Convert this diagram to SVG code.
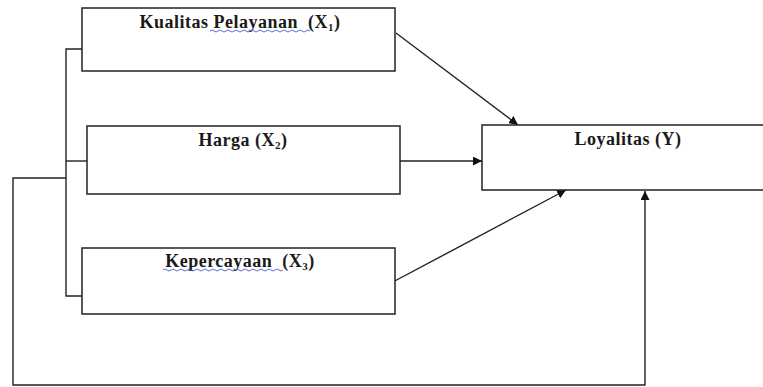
<svg xmlns="http://www.w3.org/2000/svg" width="763" height="387" viewBox="0 0 763 387">
<defs>
<style>
.box{fill:#fff;stroke:#222;stroke-width:1.5}
.lbl{font-family:"Liberation Serif","Times New Roman",serif;font-weight:bold;font-size:18px;letter-spacing:0.5px;fill:#1a1a1a;text-anchor:middle;white-space:pre}
.sub{font-size:11px}
.ln{fill:none;stroke:#222;stroke-width:1.4}
.sq{fill:none;stroke:#4a5fd0;stroke-width:0.9}
</style>
<marker id="ah" viewBox="0 0 10 10" refX="10" refY="5" markerWidth="9" markerHeight="9" markerUnits="userSpaceOnUse" orient="auto">
<path d="M0,0 L10,5 L0,10 z" fill="#111"/>
</marker>
</defs>
<rect width="763" height="387" fill="#fff"/>
<g id="connectors">
<polyline class="ln" points="82,49 66,49 66,296 82,296"/>
<line class="ln" x1="66" y1="161" x2="87" y2="161"/>
<polyline class="ln" points="66,178 13,178 13,385 645,385 645,191" marker-end="url(#ah)"/>
<line class="ln" x1="396" y1="33" x2="518" y2="125" marker-end="url(#ah)"/>
<line class="ln" x1="397" y1="161" x2="482" y2="161" marker-end="url(#ah)"/>
<line class="ln" x1="391" y1="283" x2="566" y2="190" marker-end="url(#ah)"/>
</g>
<g id="x1">
<rect class="box" x="82" y="8" width="313" height="63"/>
<text class="lbl" x="240" y="28" xml:space="preserve">Kualitas Pelayanan  (X<tspan class="sub" dy="3">1</tspan><tspan dy="-3">)</tspan></text>
<path class="sq" d="M210,31 q2,-2 4,0 t4,0 t4,0 t4,0 t4,0 t4,0 t4,0 t4,0 t4,0 t4,0 t4,0 t4,0 t4,0 t4,0 t4,0 t4,0 t4,0 t4,0 t4,0 t4,0 t4,0 t4,0 t4,0 t4,0 t4,0"/>
</g>
<g id="x2">
<rect class="box" x="87" y="126" width="313" height="68"/>
<text class="lbl" x="243" y="146">Harga (X<tspan class="sub" dy="3">2</tspan><tspan dy="-3">)</tspan></text>
</g>
<g id="x3">
<rect class="box" x="82" y="248" width="313" height="66"/>
<text class="lbl" x="240" y="267" xml:space="preserve">Kepercayaan  (X<tspan class="sub" dy="3">3</tspan><tspan dy="-3">)</tspan></text>
<path class="sq" d="M163,270 q2,-2 4,0 t4,0 t4,0 t4,0 t4,0 t4,0 t4,0 t4,0 t4,0 t4,0 t4,0 t4,0 t4,0 t4,0 t4,0 t4,0 t4,0 t4,0 t4,0 t4,0 t4,0 t4,0 t4,0 t4,0 t4,0 t4,0 t4,0 t4,0 t4,0 t4,0"/>
</g>
<g id="y">
<rect class="box" x="482" y="125" width="290" height="65"/>
<text class="lbl" x="628" y="145">Loyalitas (Y)</text>
</g>
</svg>
